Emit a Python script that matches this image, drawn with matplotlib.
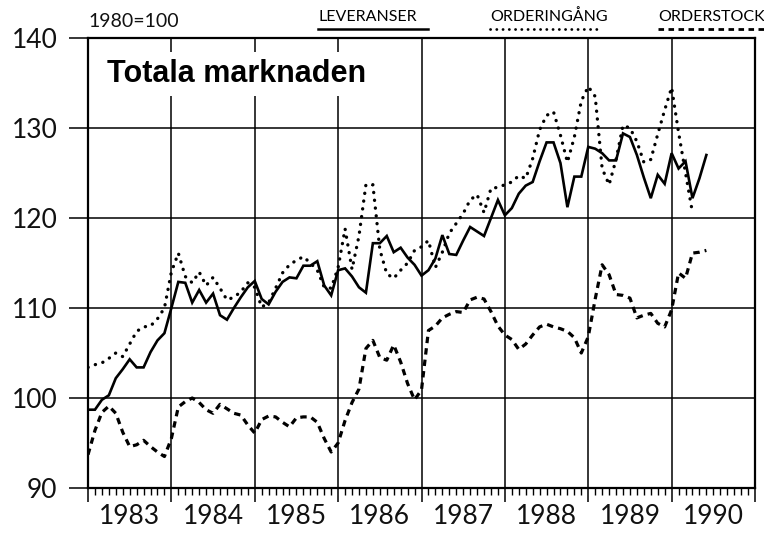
import matplotlib
matplotlib.use("Agg")
import matplotlib.pyplot as plt
from matplotlib.ticker import FixedLocator, MultipleLocator, NullFormatter
from matplotlib.lines import Line2D
import numpy as np

# ---- data (monthly, starting Jan 1983) ----
start_year = 1983
leveranser = [98.7, 98.7, 99.8, 100.3, 102.2, 103.2, 104.3, 103.4, 103.4, 105.1, 106.4, 107.2,
              110.0, 112.9, 112.8, 110.6, 112.0, 110.6, 111.6, 109.2, 108.7, 110.0, 111.2, 112.3,
              113.0, 111.0, 110.4, 111.8, 112.9, 113.4, 113.3, 114.7, 114.7, 115.2, 112.5, 111.4,
              114.2, 114.4, 113.5, 112.3, 111.7, 117.2, 117.2, 118.0, 116.2, 116.7, 115.6, 114.8,
              113.6, 114.2, 115.5, 118.1, 116.0, 115.9, 117.5, 119.0, 118.5, 118.0, 120.0, 122.0,
              120.3, 121.1, 122.7, 123.6, 124.0, 126.3, 128.4, 128.4, 126.1, 121.2, 124.6, 124.6,
              127.9, 127.7, 127.2, 126.4, 126.4, 129.4, 129.0, 127.0, 124.5, 122.2, 124.8, 123.8,
              127.2, 125.5, 126.3, 122.2, 124.4, 127.0]
orderingang = [103.4, 103.7, 103.9, 104.4, 105.0, 104.6, 106.0, 107.4, 107.9, 108.0, 108.8, 110.0,
               114.0, 116.1, 113.5, 112.8, 114.0, 112.5, 113.4, 112.2, 110.9, 111.2, 111.8, 112.8,
               112.3, 110.1, 110.6, 112.2, 113.9, 114.8, 115.3, 115.7, 115.0, 114.2, 112.3, 112.2,
               114.5, 118.8, 114.3, 118.0, 123.7, 123.7, 116.5, 113.8, 113.3, 114.2, 115.0, 116.4,
               116.8, 117.5, 114.5, 116.2, 118.3, 119.4, 120.5, 122.0, 122.6, 120.6, 123.3, 123.4,
               123.7, 124.0, 124.7, 124.4, 126.6, 129.8, 131.4, 131.8, 129.2, 126.2, 129.0, 133.0,
               134.6, 133.5, 125.5, 123.7, 126.5, 130.3, 130.0, 128.5, 126.2, 126.5, 129.3, 132.0,
               134.5, 129.5, 125.0, 120.6]
orderstock = [93.7, 96.4, 98.4, 99.1, 98.3, 96.2, 94.6, 94.8, 95.3, 94.6, 94.0, 93.5,
              95.5, 99.0, 99.6, 100.0, 99.5, 98.7, 98.3, 99.3, 98.8, 98.3, 98.1, 97.0,
              96.1, 97.6, 98.0, 97.9, 97.3, 96.8, 97.8, 97.9, 97.9, 97.3, 95.5, 94.0,
              95.0, 97.5, 99.5, 101.0, 105.5, 106.4, 104.5, 104.2, 105.9, 104.0, 101.6, 99.8,
              100.9, 107.5, 108.0, 108.9, 109.3, 109.6, 109.5, 110.9, 111.2, 111.0, 109.6, 108.0,
              107.0, 106.5, 105.4, 106.0, 107.0, 107.9, 108.2, 107.9, 107.7, 107.4, 106.7, 105.0,
              106.8, 111.0, 114.8, 113.7, 111.5, 111.4, 111.1, 108.9, 109.2, 109.4, 108.3, 107.9,
              109.8, 113.9, 113.3, 116.1, 116.2, 116.4]
years = [1983, 1984, 1985, 1986, 1987, 1988, 1989, 1990]
yticks = [90, 100, 110, 120, 130, 140]
title = "Totala marknaden"
base_label = "1980=100"
legend_labels = ["LEVERANSER", "ORDERINGÅNG", "ORDERSTOCK"]

def xs(series):
    return start_year + np.arange(len(series)) / 12.0

plt.rcParams['font.family'] = ['Lato', 'DejaVu Sans']

fig = plt.figure(figsize=(7.64, 5.4), dpi=100)
ax = fig.add_axes([88/764, 1 - 488/540, 667/764, 450/540])

ax.set_xlim(1983, 1991)
ax.set_ylim(90, 140)

# grid
for yv in yticks[1:-1]:
    ax.axhline(yv, color='black', lw=1.1, zorder=1)
for yr in years[1:]:
    ax.axvline(yr, color='black', lw=1.1, zorder=1)

ax.plot(xs(leveranser), leveranser, color='black', lw=1.9, solid_joinstyle='miter', zorder=3)
ax.plot(xs(orderingang), orderingang, color='black', lw=2.4, linestyle=(0, (0.05, 2.3)),
        dash_capstyle='round', zorder=3)
ax.plot(xs(orderstock), orderstock, color='black', lw=2.3, linestyle=(0, (2.0, 1.6)),
        dash_capstyle='butt', zorder=3)

for s in ax.spines.values():
    s.set_linewidth(1.6)

ax.yaxis.set_major_locator(FixedLocator(yticks))
ax.tick_params(axis='y', which='major', direction='out', length=14, width=1.1,
               labelsize=19, pad=8, labelcolor='#111111')

ax.xaxis.set_major_locator(FixedLocator(years + [1991]))
ax.xaxis.set_minor_locator(MultipleLocator(1/12))
ax.xaxis.set_major_formatter(NullFormatter())
ax.tick_params(axis='x', which='major', direction='out', length=10, width=1.1)
ax.tick_params(axis='x', which='minor', direction='out', length=5, width=1.0)
ax.tick_params(top=False, right=False)

for yr in years:
    ax.text(yr + 0.5, -0.035, str(yr), transform=ax.get_xaxis_transform(),
            ha='center', va='top', fontsize=19, color='#111111')

ax.text(1983.23, 136.0, title, ha='left', va='center', fontsize=22,
        fontweight='bold', family=['Liberation Sans', 'DejaVu Sans'], zorder=4,
        bbox=dict(facecolor='white', edgecolor='none', pad=5))

# header
fig.text(88/764, 1 - 27/540, base_label, ha='left', va='baseline', fontsize=14, color='#111111')
hdr = [(318, 428, legend_labels[0], '-'), (490, 598, legend_labels[1], 'dot'), (658, 764, legend_labels[2], 'dash')]
for x0, x1, lab, st in hdr:
    fig.text(x0/764, 1 - 21/540, lab, ha='left', va='baseline', fontsize=11.5)
    yline = 1 - 29/540
    if st == '-':
        ls = dict(color='black', lw=1.8)
    elif st == 'dot':
        ls = dict(color='black', lw=2.0, linestyle=(0, (0.05, 2.2)), dash_capstyle='round')
    else:
        ls = dict(color='black', lw=2.0, linestyle=(0, (2.0, 1.6)))
    fig.add_artist(Line2D([x0/764, x1/764], [yline, yline], transform=fig.transFigure, **ls))

fig.savefig("out.png", dpi=100, facecolor='white')
